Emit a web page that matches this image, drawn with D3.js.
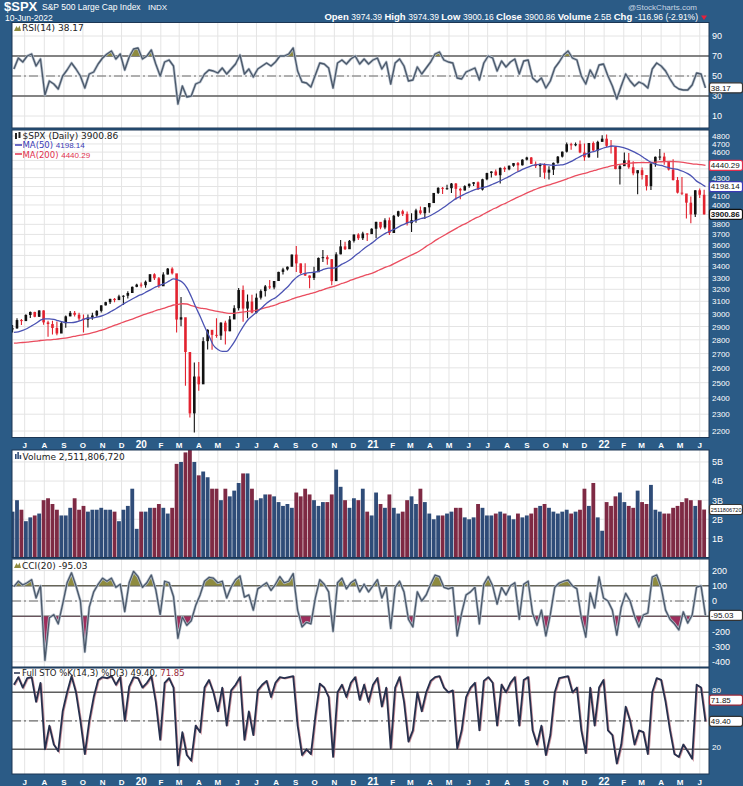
<!DOCTYPE html>
<html>
<head>
<meta charset="utf-8">
<script src="https://cdn.jsdelivr.net/npm/d3@7"></script>
<style>
  body { margin: 0; background: #2b5b86; }
  svg { display: block; font-family: "DejaVu Sans", Verdana, sans-serif; }
  .axis text { fill: #fff; font: 9px "Liberation Sans", Arial, sans-serif; }
  .axis.small text { font-size: 8px; }
</style>
</head>
<body>
<svg id="chart"></svg>
<script>
// weekly samples, week ending Friday, from 14-Jun-2019 to 10-Jun-2022
const firstWeek = new Date(2019, 5, 14)

const close = [
  2886,2950,2942,2990,3014,2976,3026,2932,2919,2889,2847,2926,2979,3007,2992,2962,2952,2970,2986,3023,3067,3093,3120,3110,3141,3146,3169,3221,3240,
  3235,3265,3330,3295,3226, 3328,3380,3338,2954, 2972,2711,2305,2541, 2489,2790,2875,2837, 2831,2930,2864,2955,3044, 3194,3041,3098,3009, 3130,3185,3225,3216,3271, 3351,3373,3397,3508, 3427,3341,3319,3298, 3348,3477,3484,3465,3270, 3510,3585,3558,3638, 3699,3663,3709,3703,3756,
  3825,3768,3841,3714, 3887,3934,3907,3811, 3842,3943,3913,3975, 4020,4129,4185,4180,4181, 4233,4174,4156,4204, 4230,4247,4166,4281, 4352,4370,4327,4412,4395, 4437,4468,4442,4509, 4535,4459,4433,4455, 4357,4391,4471,4545,4605, 4697,4683,4698,4595, 4538,4712,4620,4726,4766,
  4677,4663,4398,4432, 4501,4419,4349,4385, 4329,4204,4463,4543, 4546,4488,4393,4272,4132, 4123,4024,3901,4158, 4109,3900.86
]
const high = [
  2911,2964,2959,2996,3018,3015,3028,3028,2944,2944,2939,2940,2985,3021,3022,3007,2993,2993,3008,3028,3067,3097,3121,3127,3154,3150,3183,3225,3248,
  3258,3275,3330,3338,3306, 3347,3385,3393,3259, 3136,2882,2650,2637, 2641,2819,2879,2871, 2965,2934,2945,2981,3068, 3211,3233,3156,3155, 3165,3198,3236,3280,3272, 3352,3387,3399,3509, 3588,3425,3428,3320, 3397,3482,3550,3502,3466, 3529,3646,3628,3645, 3699,3712,3726,3711,3760,
  3826,3820,3861,3870, 3894,3938,3950,3930, 3914,3960,3983,3978, 4020,4129,4191,4194,4218, 4238,4238,4187,4214, 4234,4249,4257,4286, 4356,4372,4393,4415,4429, 4440,4468,4481,4513, 4545,4541,4487,4465, 4466,4430,4476,4552,4608, 4718,4714,4717,4744, 4705,4713,4731,4740,4808,
  4819,4748,4665,4453, 4595,4590,4490,4385, 4416,4327,4465,4546, 4637,4593,4471,4513,4308, 4307,4082,4091,4158, 4177,4164
]
const low = [
  2854,2883,2912,2952,2966,2973,2975,2914,2822,2840,2834,2856,2891,2980,2979,2945,2855,2892,2953,2976,3010,3066,3078,3092,3110,3070,3124,3176,3218,
  3215,3214,3263,3280,3214, 3234,3327,3328,2855, 2902,2479,2280,2192, 2447,2535,2729,2727, 2815,2798,2766,2864,2969, 3026,2937,2965,3004, 3001,3115,3140,3202,3200, 3285,3328,3363,3400, 3350,3329,3314,3209, 3280,3354,3440,3415,3234, 3279,3511,3550,3594, 3622,3645,3647,3636,3703,
  3663,3750,3750,3694, 3725,3874,3884,3789, 3723,3815,3900,3853, 3917,4034,4118,4118,4164, 4128,4056,4061,4155, 4186,4206,4164,4155, 4271,4300,4320,4233,4365, 4385,4425,4367,4440, 4500,4456,4410,4306, 4288,4278,4329,4459,4535, 4595,4630,4672,4585, 4495,4532,4600,4531,4733,
  4662,4582,4395,4222, 4435,4401,4327,4114, 4279,4157,4161,4424, 4506,4450,4381,4267,4124, 4106,3859,3811,3875, 4073,3900
]
const ma50 = [
  2855,2860,2870,2885,2905,2925,2950,2960,2960,2955,2945,2935,2930,2930,2935,2945,2960,2965,2968,2975,2985,3000,3020,3040,3062,3085,3105,3125,3145,
  3160,3180,3200,3220,3235, 3250,3270,3290,3280, 3260,3215,3140,3055, 2980,2900,2830,2760, 2730,2715,2715,2750,2800, 2860,2915,2960,2990, 3020,3050,3085,3110,3130, 3160,3195,3230,3275, 3310,3330,3340,3345, 3350,3360,3375,3385,3385, 3395,3420,3440,3465, 3500,3530,3565,3595,3625,
  3660,3690,3715,3735, 3755,3780,3800,3820, 3830,3845,3860,3870, 3890,3915,3945,3975,4010, 4045,4075,4100,4125, 4145,4165,4180,4190, 4205,4225,4245,4270,4295, 4320,4350,4375,4400, 4420,4440,4450,4455, 4450,4445,4440,4445,4450, 4470,4495,4525,4555, 4575,4595,4610,4630,4650,
  4665,4675,4670,4660, 4645,4625,4600,4570, 4535,4500,4470,4450, 4440,4425,4410,4400,4390, 4370,4345,4310,4260, 4230,4198.14
]
const ma200 = [
  2775,2778,2780,2783,2787,2790,2795,2798,2800,2803,2806,2810,2815,2822,2828,2835,2840,2847,2855,2865,2875,2887,2900,2912,2925,2938,2950,2962,2975,
  2988,3000,3012,3025,3035, 3045,3058,3070,3075, 3080,3078,3065,3055, 3045,3040,3033,3025, 3018,3012,3005,3003,3005, 3010,3015,3020,3022, 3030,3040,3050,3060,3070, 3085,3095,3108,3122, 3135,3145,3155,3165, 3175,3188,3200,3213,3222, 3235,3250,3262,3278, 3292,3305,3318,3330,3342,
  3360,3378,3395,3410, 3430,3450,3470,3490, 3510,3530,3555,3585, 3610,3640,3665,3690,3715, 3740,3765,3790,3810, 3835,3860,3880,3905, 3930,3955,3975,4000,4020, 4045,4068,4090,4112, 4135,4155,4175,4192, 4208,4222,4238,4255,4272, 4290,4308,4325,4340, 4352,4368,4382,4398,4412,
  4425,4438,4448,4455, 4462,4468,4472,4474, 4475,4474,4476,4480, 4484,4486,4487,4486,4482, 4476,4468,4460,4455, 4450,4440.29
]
// billions of shares
const volume = [
  2.4,3.0,2.5,1.9,2.1,2.2,2.3,3.0,3.1,2.8,2.5,2.2,2.2,2.6,3.1,2.5,2.7,2.4,2.5,2.5,2.6,2.5,2.5,2.4,1.9,2.5,2.7,3.6,1.5,
  2.4,2.4,2.6,2.6,2.8, 2.6,2.3,2.6,4.9, 5.0,5.5,5.8,5.0, 4.3,4.5,4.2,3.6, 3.6,3.0,3.6,3.2,3.5, 3.9,4.4,4.4,3.6, 3.0,3.1,3.3,3.3,3.2, 2.9,2.7,2.8,2.6, 3.4,3.2,3.6,3.3, 3.0,2.7,2.9,2.9,3.3, 4.6,3.7,3.0,2.6, 3.1,3.0,3.6,2.4,2.2,
  3.4,2.8,2.6,3.3, 2.6,2.3,2.4,3.0, 3.2,2.8,3.6,2.9, 2.3,2.0,2.2,2.2,2.3, 2.4,2.6,2.6,2.1, 2.0,2.1,2.8,2.6, 2.2,2.2,2.3,2.4,2.3, 2.2,2.0,2.3,2.1, 2.2,2.3,2.6,2.7, 2.8,2.6,2.4,2.3,2.4, 2.5,2.3,2.4,2.5, 3.6,2.7,3.9,2.1,1.4,
  2.9,2.7,3.2,3.4, 2.9,2.7,2.6,3.5, 2.9,2.8,3.8,2.5, 2.4,2.3,2.3,2.6,2.7, 2.9,3.1,3.0,2.7, 3.0,2.51
]
const rsi = [
  57,68,64,70,72,60,67,31,45,42,37,50,56,63,57,50,38,52,54,62,68,72,75,67,72,56,69,77,78,
  67,70,76,62,50, 64,66,60,22, 40,29,30,42, 44,52,56,55, 53,58,52,57,62, 71,52,57,49, 57,60,63,60,64, 70,70,72,78, 55,44,43,39, 51,63,62,58,38, 63,66,62,67, 70,62,67,62,66,
  68,57,64,42, 63,67,60,45, 46,59,52,58, 64,72,74,66,64, 63,48,47,54, 56,58,46,63, 70,68,55,65,59, 64,67,52,65, 66,48,44,48, 38,45,58,64,71, 75,68,66,50, 42,56,48,61,62,
  50,40,27,40, 52,45,40,44, 42,38,57,63, 60,55,47,40,37, 36,36,41,53, 52,38.17
]
const cci = [
  95,130,105,120,140,20,100,-390,-110,-90,-150,-20,120,185,100,0,-335,-40,60,110,150,130,150,90,110,-70,120,195,160,
  90,120,170,75,-90, 130,120,30,-245, -105,-160,-130,-30, 40,130,155,150, 120,130,20,92,140, 165,26,40,-60, 80,100,120,70,110, 160,120,130,180, -60,-170,-140,-150, 20,140,110,60,-200, 120,150,80,120, 140,60,110,60,100,
  140,20,90,-180, 90,130,60,-120, -170,60,0,40, 110,170,160,90,80, 90,-230,-80,40, 60,90,-150,110, 160,100,-20,90,40, 100,120,-120,110, 130,-80,-160,-60, -230,-90,90,118,130, 138,100,80,-112, -237,53,-46,158,20,
  0,-60,-224,-40, 50,0,-100,-171, -92,-79,158,171, 92,-60,-120,-150,-190, -72,-145,-92,92, 100,-95.03
]
const stoK = [
  88,96,85,95,96,70,90,20,45,25,18,60,80,97,80,50,15,50,75,93,96,95,97,88,96,50,86,96,95,
  85,90,97,70,30, 90,95,85,3, 38,14,8,45, 38,85,93,80, 60,85,45,82,88, 96,30,60,35, 82,88,92,75,90, 96,95,96,97, 45,14,20,15, 55,89,85,75,12, 80,88,75,90, 96,72,88,70,88,
  95,65,85,21, 85,96,70,28, 40,80,60,80, 92,96,97,85,80, 82,21,40,75, 85,90,40,92, 96,90,45,88,80, 90,96,45,93, 96,40,25,45, 14,35,80,95,96, 97,80,85,40, 16,85,45,85,93,
  40,35,5,25, 65,50,25,40, 38,15,80,95, 93,70,40,15,12, 25,18,10,88, 85,49.4
]

const priceTicks = d3.range(2200, 4801, 100)
const priceHidden = [4500, 4400, 4200, 3900]
const rsiTicks = [90, 70, 50, 30, 10]
const volTicks = [1, 2, 3, 4, 5]
const cciTicks = [200, 100, 0, -200, -300, -400]
const cciGrid = [200, 100, 0, -100, -200, -300, -400]
const stoTicks = [80, 20]
const statLabels = ['Open', 'High', 'Low', 'Close', 'Volume', 'Chg']
const statValues = ['3974.39', '3974.39', '3900.16', '3900.86', '2.5B', '-116.96 (-2.91%)']

let width = 743
let height = 786
let L = 12
let R = 709

let svg = d3.select('#chart').attr('width', width).attr('height', height)
svg.append('rect').attr('width', width).attr('height', height).attr('fill', '#2b5b86')

let weeks = close.map((d, i) => d3.timeDay.offset(firstWeek, 7 * i))
let x = d3.scaleTime().domain([new Date(2019, 5, 11), new Date(2022, 5, 14)]).range([12, 708])
let months = d3.timeMonth.range(new Date(2019, 6, 1), new Date(2022, 5, 2))
let step = x(weeks[1]) - x(weeks[0])
let xc = i => x(weeks[i]) - step * 0.3

function addPanel(name, top, bottom, y, grid, ticks, fmt, small, dy) {
  let g = svg.append('g')
  g.append('rect').attr('x', L).attr('y', top).attr('width', R - L).attr('height', bottom - top).attr('fill', '#fff')
  g.selectAll(null).data(months).join('line')
    .attr('x1', d => x(d)).attr('x2', d => x(d))
    .attr('y1', top).attr('y2', bottom)
    .attr('stroke', '#e4e4e4')
  g.selectAll(null).data(grid).join('line')
    .attr('x1', L).attr('x2', R)
    .attr('y1', d => y(d)).attr('y2', d => y(d))
    .attr('stroke', '#e4e4e4')
  svg.append('clipPath').attr('id', 'clip-' + name)
    .append('rect').attr('x', L).attr('y', top).attr('width', R - L).attr('height', bottom - top)
  let axis = svg.append('g').attr('class', small ? 'axis small' : 'axis').attr('transform', `translate(${R + 1},${dy || 0})`)
    .call(d3.axisRight(y).tickValues(ticks).tickFormat(fmt).tickSize(0).tickPadding(2))
  axis.select('.domain').remove()
  let plot = svg.append('g').attr('clip-path', `url(#clip-${name})`)
  plot.frame = [top, bottom]
  return plot
}

function hline(plot, y, v, dashed) {
  plot.append('line').attr('x1', L).attr('x2', R).attr('y1', y(v)).attr('y2', y(v))
    .attr('stroke', dashed ? '#6d6d6d' : '#5e5e5e')
    .attr('stroke-width', dashed ? 1.2 : 1.6)
    .attr('stroke-dasharray', dashed ? '9,3,2,3' : null)
}

function oscillator(plot, name, y, values, hi, lo, color, w) {
  let [top, bottom] = plot.frame
  svg.append('clipPath').attr('id', name + '-hi').append('rect')
    .attr('x', L).attr('y', top).attr('width', R - L).attr('height', y(hi) - top)
  svg.append('clipPath').attr('id', name + '-lo').append('rect')
    .attr('x', L).attr('y', y(lo)).attr('width', R - L).attr('height', bottom - y(lo))
  let areaHi = d3.area().x((d, i) => x(weeks[i])).y0(y(hi)).y1(d => y(d))
  let areaLo = d3.area().x((d, i) => x(weeks[i])).y0(y(lo)).y1(d => y(d))
  plot.append('path').datum(values).attr('d', areaHi).attr('fill', '#8e8b3f').attr('clip-path', `url(#${name}-hi)`)
  plot.append('path').datum(values).attr('d', areaLo).attr('fill', '#9e2e5c').attr('clip-path', `url(#${name}-lo)`)
  let line = d3.line().x((d, i) => x(weeks[i])).y(d => y(d))
  plot.append('path').datum(values).attr('d', line).attr('fill', 'none')
    .attr('stroke', '#b7c0cc').attr('stroke-width', w + 1.4).attr('stroke-linejoin', 'round')
  plot.append('path').datum(values).attr('d', line).attr('fill', 'none')
    .attr('stroke', color).attr('stroke-width', w).attr('stroke-linejoin', 'round')
}

function valueBox(y, txt, stroke, bold, size) {
  let g = svg.append('g')
  g.append('rect').attr('x', R + 0.5).attr('y', y - 5).attr('width', 33).attr('height', 10).attr('rx', 2)
    .attr('fill', '#fff').attr('stroke', stroke).attr('stroke-width', 1.2)
  g.append('text').attr('x', R + 1.8).attr('y', y + 2.8).text(txt)
    .style('font', `${bold ? 'bold ' : ''}${size || 8}px "Liberation Sans", Arial, sans-serif`).attr('fill', '#111')
}

function label(xp, yp, txt, color, size) {
  return svg.append('text').attr('x', xp).attr('y', yp).text(txt)
    .attr('fill', color).style('font-size', size + 'px')
}

function monthLabels(yBase) {
  svg.append('g').selectAll('text').data(months).join('text')
    .attr('x', d => x(d)).attr('y', yBase).attr('text-anchor', 'middle')
    .attr('fill', '#fff')
    .style('font', d => d.getMonth() === 0 ? 'bold 10px "Liberation Sans", Arial' : 'bold 8px "Liberation Sans", Arial')
    .text(d => d.getMonth() === 0 ? d3.timeFormat('%y')(d) : d3.timeFormat('%b')(d)[0])
}

// ---------- header
svg.append('text').attr('x', 4).attr('y', 10.5).text('$SPX')
  .attr('fill', '#fff').style('font', 'bold 13px "Liberation Sans Narrow", "Liberation Sans", Arial')
svg.append('text').attr('x', 42).attr('y', 10).text('S&P 500 Large Cap Index')
  .attr('fill', '#fff').style('font', '8.5px "Liberation Sans", Arial')
svg.append('text').attr('x', 148).attr('y', 10).text('INDX')
  .attr('fill', '#fff').style('font', '8px "Liberation Sans", Arial')
svg.append('text').attr('x', 697).attr('y', 10).attr('text-anchor', 'end').text('@StockCharts.com')
  .attr('fill', '#c9d6e3').style('font', '8px "Liberation Sans", Arial')
svg.append('text').attr('x', 5).attr('y', 20.5).text('10-Jun-2022')
  .attr('fill', '#fff').style('font', '8.5px "Liberation Sans", Arial')
let stats = svg.append('text').attr('x', 698).attr('y', 20).attr('text-anchor', 'end')
  .attr('fill', '#fff').style('font', '8.5px "Liberation Sans", Arial')
statLabels.forEach((s, i) => {
  stats.append('tspan').text(s + ' ').style('font-weight', 'bold').style('font-size', '9.5px')
  stats.append('tspan').text(statValues[i] + (i < statLabels.length - 1 ? '  ' : ''))
})
svg.append('path').attr('d', 'M701,15.5 L707,15.5 L704,20 Z').attr('fill', '#e8203a')

// ---------- RSI panel
let yRsi = d3.scaleLinear().domain([30, 70]).range([96, 56])
let rsiPlot = addPanel('rsi', 22.5, 128, yRsi, rsiTicks, rsiTicks, d => d)
hline(rsiPlot, yRsi, 70)
hline(rsiPlot, yRsi, 30)
hline(rsiPlot, yRsi, 50, true)
oscillator(rsiPlot, 'rsi', yRsi, rsi, 70, 30, '#4a586a', 1.3)

// ---------- price panel
let yPrice = d3.scaleLog().domain([2200, 4800]).range([431, 136])
let pricePlot = addPanel('price', 130, 437.5, yPrice, priceTicks,
  priceTicks.filter(d => !priceHidden.includes(d)), d => d, true)
let opens = close.map((c, i) => i ? close[i - 1] : c)
let up = close.map((c, i) => c >= opens[i])
pricePlot.selectAll('.wick').data(close).join('line')
  .attr('x1', (d, i) => xc(i)).attr('x2', (d, i) => xc(i))
  .attr('y1', (d, i) => yPrice(high[i])).attr('y2', (d, i) => yPrice(low[i]))
  .attr('stroke', (d, i) => up[i] ? '#111' : '#e2222f').attr('stroke-width', 1.1)
pricePlot.selectAll('.body').data(close).join('rect')
  .attr('x', (d, i) => xc(i) - 1.3).attr('width', 2.6)
  .attr('y', (d, i) => yPrice(Math.max(d, opens[i])))
  .attr('height', (d, i) => Math.max(1, yPrice(Math.min(d, opens[i])) - yPrice(Math.max(d, opens[i]))))
  .attr('fill', (d, i) => up[i] ? '#111' : '#e2222f')
let maLine = d3.line().x((d, i) => x(weeks[i])).y(d => yPrice(d)).curve(d3.curveMonotoneX)
pricePlot.append('path').datum(ma200).attr('d', maLine).attr('fill', 'none').attr('stroke', '#ea4d5f').attr('stroke-width', 1.3)
pricePlot.append('path').datum(ma50).attr('d', maLine).attr('fill', 'none').attr('stroke', '#4b53b3').attr('stroke-width', 1.3)

// ---------- volume panel
let yVol = d3.scaleLinear().domain([0, 5.6]).range([557.5, 450.5])
let volPlot = addPanel('vol', 450, 557.5, yVol, volTicks, volTicks, d => d + 'B')
volPlot.selectAll('rect.v').data(volume).join('rect')
  .attr('x', (d, i) => xc(i) - step / 2 + 0.3).attr('width', step - 0.6)
  .attr('y', d => yVol(d)).attr('height', d => yVol(0) - yVol(d))
  .attr('fill', (d, i) => up[i] ? '#2f4c78' : '#7e2a44')

// ---------- CCI panel
let yCci = d3.scaleLinear().domain([-100, 100]).range([616.2, 585.8])
let cciPlot = addPanel('cci', 559, 667, yCci, cciGrid, cciTicks, d => d)
hline(cciPlot, yCci, 100)
hline(cciPlot, yCci, -100)
hline(cciPlot, yCci, 0, true)
oscillator(cciPlot, 'cci', yCci, cci, 100, -100, '#4a586a', 1.3)

// ---------- STO panel
let ySto = d3.scaleLinear().domain([20, 80]).range([749.3, 692.3])
let stoPlot = addPanel('sto', 668, 774, ySto, [80, 50, 20], stoTicks, d => d, true, -2.5)
hline(stoPlot, ySto, 80)
hline(stoPlot, ySto, 20)
hline(stoPlot, ySto, 50, true)
let stoLine = d3.line().x((d, i) => x(weeks[i])).y(d => ySto(d))
stoPlot.append('path').datum(stoK).attr('d', stoLine).attr('fill', 'none')
  .attr('stroke', '#b86a78').attr('stroke-width', 1.6).attr('stroke-opacity', 0.7)
  .attr('transform', 'translate(0.9,0.6)')
stoPlot.append('path').datum(stoK).attr('d', stoLine).attr('fill', 'none')
  .attr('stroke', '#26304d').attr('stroke-width', 1.8).attr('stroke-linejoin', 'round')

// ---------- panel frames
;[[22.5, 128], [130, 437.5], [450, 557.5], [559, 667], [668, 774]].forEach(([t, b]) => {
  svg.append('rect').attr('x', L).attr('y', t).attr('width', R - L).attr('height', b - t)
    .attr('fill', 'none').attr('stroke', '#1c3654').attr('stroke-width', 1)
})

// ---------- date bands
monthLabels(447.5)
monthLabels(785)

// ---------- panel legends
svg.append('path').attr('d', 'M14,31 L16.5,26 L18,28.5 L19.5,25.5 L21,31 Z').attr('fill', '#8e8b3f')
label(22, 31, 'RSI(14) 38.17', '#222', 9)

svg.append('rect').attr('x', 15).attr('y', 133).attr('width', 2).attr('height', 6).attr('fill', '#222')
svg.append('rect').attr('x', 18.5).attr('y', 132).attr('width', 2).attr('height', 6).attr('fill', '#222')
label(22.5, 139, '$SPX (Daily) 3900.86', '#222', 9)
svg.append('line').attr('x1', 15).attr('x2', 22).attr('y1', 145).attr('y2', 145).attr('stroke', '#3a3ab5').attr('stroke-width', 1.5)
let m50 = label(22.5, 148, 'MA(50) ', '#3a3ab5', 8.5)
m50.append('tspan').text('4198.14').style('font', '8px "Liberation Sans", Arial')
svg.append('line').attr('x1', 15).attr('x2', 22).attr('y1', 154).attr('y2', 154).attr('stroke', '#e0304e').attr('stroke-width', 1.5)
let m200 = label(22.5, 157.5, 'MA(200) ', '#e0304e', 8.5)
m200.append('tspan').text('4440.29').style('font', '8px "Liberation Sans", Arial')

svg.append('rect').attr('x', 15).attr('y', 454).attr('width', 1.6).attr('height', 5).attr('fill', '#2f4c78')
svg.append('rect').attr('x', 17.3).attr('y', 452).attr('width', 1.6).attr('height', 7).attr('fill', '#2f4c78')
svg.append('rect').attr('x', 19.6).attr('y', 455).attr('width', 1.6).attr('height', 4).attr('fill', '#2f4c78')
label(22.5, 459.5, 'Volume 2,511,806,720', '#222', 9)

svg.append('path').attr('d', 'M14,568 L16.5,563 L18,565.5 L19.5,562.5 L21,568 Z').attr('fill', '#8e8b3f')
label(22, 568.5, 'CCI(20) -95.03', '#222', 9)

svg.append('line').attr('x1', 14).attr('x2', 20).attr('y1', 673).attr('y2', 673).attr('stroke', '#26304d').attr('stroke-width', 1.5)
let stoLab = label(22, 676, 'Full STO %K(14,3) %D(3) 49.40, ', '#222', 8.5)
stoLab.append('tspan').text('71.85').attr('fill', '#9a2a3a')

// ---------- value boxes
valueBox(yRsi(38.17), '38.17', '#333')
valueBox(yPrice(4440.29), '4440.29', '#e0304e')
valueBox(yPrice(4198.14), '4198.14', '#3a3ab5')
valueBox(yPrice(3900.86), '3900.86', '#111', true)
valueBox(yVol(2.5118), '2511806720', '#333', false, 5.6)
valueBox(yCci(-95.03), '-95.03', '#333')
valueBox(ySto(71.85), '71.85', '#9a2a3a')
valueBox(ySto(49.4), '49.40', '#333')
</script>
</body>
</html>
